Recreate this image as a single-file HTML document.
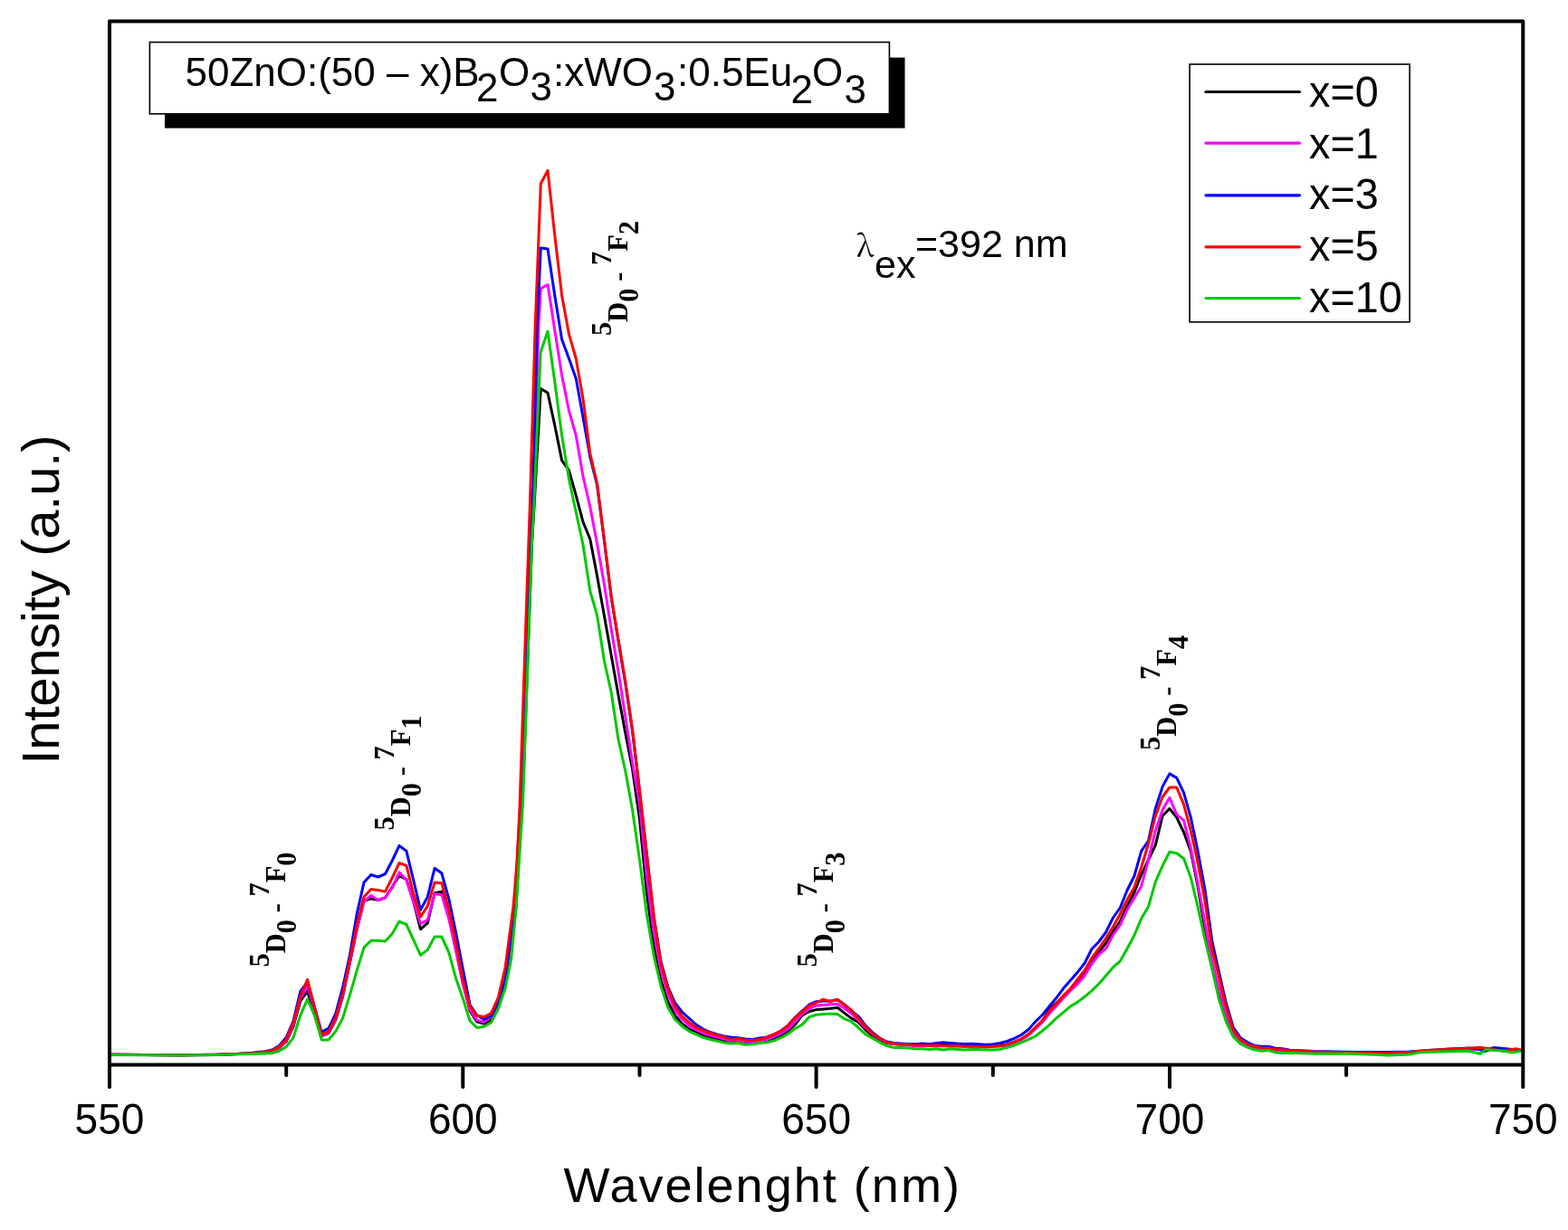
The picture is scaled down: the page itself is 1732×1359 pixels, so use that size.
<!DOCTYPE html>
<html><head><meta charset="utf-8">
<style>
html,body{margin:0;padding:0;background:#fff;}
svg{display:block;}
.s{font-family:"Liberation Sans",Arial,sans-serif;}
.t{font-family:"Liberation Serif","Times New Roman",serif;font-weight:bold;}
</style></head><body>
<svg width="1732" height="1359" viewBox="0 0 1732 1359">
<rect x="0" y="0" width="1732" height="1359" fill="#fff"/>
<!-- curves -->
<g stroke-width="3" stroke-linejoin="round" stroke-linecap="round">
<polyline fill="none" stroke="#000" points="121.0,1165.3 199.1,1165.8 238.1,1165.4 277.1,1164.0 292.7,1162.6 300.5,1161.5 308.3,1158.0 316.1,1151.0 324.0,1134.0 331.8,1106.0 339.6,1095.2 355.2,1144.5 363.0,1141.5 370.8,1127.0 378.6,1101.0 386.4,1064.0 394.2,1027.0 402.0,995.3 409.8,992.8 417.6,994.5 425.4,992.0 433.2,980.0 441.0,967.4 448.9,971.6 456.7,996.1 464.5,1026.6 472.3,1019.8 480.1,986.8 487.9,985.1 495.7,1011.4 503.5,1048.6 511.3,1085.8 519.1,1117.0 526.9,1128.9 534.7,1131.1 542.5,1127.1 550.3,1111.2 558.1,1086.5 563.5,1060.0 570.0,1001.0 578.5,850.0 587.5,600.0 590.0,560.0 597.3,429.5 605.0,434.0 612.8,470.0 620.6,508.6 628.4,519.6 636.2,547.2 644.0,576.6 651.8,595.5 659.6,636.5 667.4,680.0 675.2,724.0 683.0,768.0 690.8,810.0 698.6,850.0 706.5,905.0 714.3,985.0 722.1,1045.0 729.9,1083.0 737.7,1107.0 745.5,1122.0 753.3,1131.0 761.1,1137.0 768.9,1140.5 776.7,1144.0 784.5,1146.5 792.3,1148.5 800.1,1150.0 807.9,1151.5 815.7,1151.0 823.5,1152.5 831.3,1152.5 839.2,1151.0 847.0,1150.0 854.8,1147.5 862.6,1144.0 870.4,1139.5 878.2,1132.0 886.0,1121.9 893.8,1117.5 901.6,1115.6 909.4,1115.0 917.2,1114.3 925.0,1113.3 932.8,1119.4 940.6,1125.1 948.4,1129.5 956.2,1138.0 964.0,1144.5 971.9,1149.0 979.7,1152.5 987.5,1153.5 995.3,1154.0 1003.1,1154.0 1010.9,1153.7 1018.7,1153.7 1057.7,1154.5 1104.6,1154.5 1112.4,1154.0 1120.2,1151.5 1128.0,1148.0 1135.8,1143.0 1143.6,1136.0 1151.4,1128.5 1159.2,1115.0 1167.0,1108.0 1174.8,1100.5 1182.6,1093.0 1190.4,1084.0 1198.2,1075.0 1206.0,1064.0 1213.8,1051.7 1221.6,1042.0 1229.5,1029.0 1237.3,1018.0 1245.1,1001.0 1252.9,986.0 1260.7,966.3 1268.5,950.1 1276.3,933.9 1284.1,901.5 1291.9,893.4 1299.7,903.1 1307.5,919.3 1315.3,940.4 1323.1,979.2 1330.9,1026.2 1338.7,1065.0 1346.5,1095.0 1354.3,1122.0 1362.2,1142.0 1370.0,1151.0 1377.8,1155.5 1385.6,1158.0 1393.4,1159.5 1401.2,1160.0 1409.0,1161.0 1416.8,1161.5 1424.6,1162.0 1432.4,1162.0 1451.2,1162.5 1498.0,1163.5 1533.8,1163.8 1557.2,1163.0 1596.1,1160.8 1614.9,1159.5 1631.0,1158.0 1640.0,1161.5 1651.0,1158.0 1661.6,1160.0 1682.0,1160.8"/>
<polyline fill="none" stroke="#f0f" points="121.0,1165.3 199.1,1165.8 238.1,1165.4 277.1,1164.0 292.7,1162.6 300.5,1161.5 308.3,1157.5 316.1,1150.5 324.0,1132.0 331.8,1103.3 339.6,1088.6 355.2,1144.2 363.0,1141.0 370.8,1126.0 378.6,1100.0 386.4,1063.0 394.2,1026.0 402.0,996.0 409.8,989.4 417.6,994.5 425.4,992.0 433.2,980.9 441.0,963.8 448.9,972.5 456.7,996.1 464.5,1020.7 472.3,1016.4 480.1,987.7 487.9,988.5 495.7,1014.8 503.5,1050.3 511.3,1087.5 519.1,1115.6 526.9,1127.1 534.7,1129.3 542.5,1123.6 550.3,1107.7 558.1,1081.2 562.0,1060.0 569.0,1001.0 577.5,850.0 586.5,600.0 589.0,560.0 594.9,360.0 597.3,319.0 605.0,314.5 612.8,365.0 620.6,414.7 628.4,453.4 636.2,481.0 644.0,526.0 651.8,560.0 659.6,601.0 667.4,645.5 675.2,695.2 683.0,742.0 690.8,792.0 698.6,843.0 706.5,888.0 714.3,968.0 722.1,1030.0 729.9,1072.0 737.7,1098.0 745.5,1116.0 753.3,1126.0 761.1,1133.0 768.9,1138.0 776.7,1141.5 784.5,1144.0 792.3,1146.0 800.1,1148.0 807.9,1150.0 815.7,1149.5 823.5,1151.0 831.3,1151.5 839.2,1150.5 847.0,1148.5 854.8,1145.5 862.6,1142.0 870.4,1137.0 878.2,1129.0 886.0,1120.6 893.8,1114.3 901.6,1111.1 909.4,1110.5 917.2,1109.8 925.0,1109.2 932.8,1114.3 940.6,1120.0 948.4,1127.5 956.2,1136.0 964.0,1143.0 971.9,1148.0 979.7,1152.0 987.5,1153.5 995.3,1154.5 1003.1,1155.0 1010.9,1155.5 1018.7,1155.5 1057.7,1156.0 1104.6,1156.0 1112.4,1155.0 1120.2,1152.0 1128.0,1149.0 1135.8,1144.0 1143.6,1137.0 1151.4,1129.5 1159.2,1119.5 1167.0,1111.2 1174.8,1102.4 1182.6,1094.2 1190.4,1087.1 1198.2,1077.7 1206.0,1065.0 1213.8,1054.5 1221.6,1048.0 1229.5,1033.0 1237.3,1022.0 1245.1,1005.0 1252.9,992.3 1260.7,979.2 1268.5,950.1 1276.3,917.7 1284.1,895.0 1291.9,881.3 1299.7,899.9 1307.5,906.4 1315.3,937.1 1323.1,976.0 1330.9,1019.7 1338.7,1062.0 1346.5,1092.0 1354.3,1120.0 1362.2,1141.0 1370.0,1150.5 1377.8,1155.0 1385.6,1157.5 1393.4,1159.0 1401.2,1159.5 1409.0,1160.5 1416.8,1161.0 1424.6,1162.0 1432.4,1162.0 1451.2,1162.5 1498.0,1163.5 1533.8,1163.8 1557.2,1163.0 1596.1,1160.5 1635.1,1159.0 1649.1,1160.0 1661.6,1158.8 1674.1,1160.0 1682.0,1160.8"/>
<polyline fill="none" stroke="#00f" points="121.0,1165.2 160.0,1165.5 199.1,1165.8 238.1,1165.3 261.5,1164.5 277.1,1163.5 284.9,1162.5 292.7,1161.8 300.5,1160.0 308.3,1155.5 316.1,1146.5 324.0,1128.0 331.8,1095.5 339.6,1085.0 355.2,1140.4 363.0,1136.1 370.8,1120.0 378.6,1091.0 386.4,1055.4 394.2,1009.7 402.0,975.0 409.8,966.5 417.6,969.0 425.4,965.7 433.2,951.0 441.0,934.4 448.9,940.3 456.7,972.5 464.5,1005.4 472.3,991.0 480.1,959.3 487.9,964.8 495.7,992.8 503.5,1030.0 511.3,1070.6 519.1,1110.4 526.9,1121.8 534.7,1126.2 542.5,1122.7 550.3,1107.7 558.1,1083.0 561.0,1060.0 568.5,1001.0 577.0,850.0 586.0,600.0 588.2,560.0 593.4,360.0 597.3,274.0 605.0,275.0 612.8,326.5 620.6,375.0 628.4,396.0 636.2,418.0 644.0,460.7 651.8,505.0 659.6,536.0 667.4,597.0 675.2,660.0 683.0,708.0 690.8,755.0 698.6,808.0 706.5,875.0 714.3,944.0 722.1,1012.0 729.9,1062.0 737.7,1090.0 745.5,1108.0 753.3,1118.0 761.1,1125.0 768.9,1132.0 776.7,1137.0 784.5,1140.5 792.3,1143.0 800.1,1145.0 807.9,1146.0 815.7,1146.7 823.5,1148.0 831.3,1148.5 839.2,1147.0 847.0,1146.0 854.8,1143.0 862.6,1139.0 870.4,1133.0 878.2,1124.0 886.0,1117.0 893.8,1110.0 901.6,1106.7 909.4,1106.0 917.2,1106.0 925.0,1104.8 932.8,1110.0 940.6,1116.8 948.4,1123.2 956.2,1133.4 964.0,1141.0 971.9,1147.0 979.7,1151.0 987.5,1152.5 995.3,1153.0 1003.1,1153.5 1010.9,1154.0 1018.7,1153.0 1026.5,1153.7 1034.3,1152.4 1042.1,1151.8 1049.9,1152.4 1057.7,1153.0 1065.5,1153.4 1073.3,1153.3 1081.1,1153.7 1088.9,1154.3 1096.8,1153.7 1104.6,1152.4 1112.4,1150.5 1120.2,1147.3 1128.0,1143.5 1135.8,1137.8 1143.6,1128.9 1151.4,1121.5 1159.2,1111.8 1167.0,1102.4 1174.8,1091.8 1182.6,1083.0 1190.4,1074.1 1198.2,1064.0 1206.0,1048.5 1213.8,1040.5 1221.6,1029.8 1229.5,1014.0 1237.3,1003.0 1245.1,983.5 1252.9,968.0 1260.7,940.4 1268.5,929.0 1276.3,893.4 1284.1,869.1 1291.9,854.9 1299.7,859.4 1307.5,875.6 1315.3,903.1 1323.1,940.4 1330.9,982.5 1338.7,1039.0 1346.5,1074.3 1354.3,1108.3 1362.2,1135.0 1370.0,1146.4 1377.8,1151.6 1385.6,1155.2 1393.4,1156.2 1401.2,1156.2 1409.0,1158.3 1416.8,1158.8 1424.6,1160.3 1432.4,1160.5 1451.2,1161.5 1498.0,1162.5 1533.8,1162.5 1557.2,1162.0 1600.0,1159.0 1622.6,1158.0 1640.0,1160.0 1651.0,1157.5 1665.0,1159.0 1682.0,1160.4"/>
<polyline fill="none" stroke="#f00" points="121.0,1165.2 160.0,1165.5 199.1,1165.8 238.1,1165.3 261.5,1164.5 277.1,1163.8 284.9,1163.0 292.7,1162.3 300.5,1160.5 308.3,1156.6 316.1,1148.9 324.0,1129.6 331.8,1101.0 339.6,1082.4 355.2,1143.1 363.0,1139.6 370.8,1124.0 378.6,1097.7 386.4,1060.4 394.2,1021.5 402.0,991.0 409.8,982.6 417.6,983.5 425.4,985.1 433.2,970.0 441.0,953.5 448.9,956.4 456.7,987.7 464.5,1013.0 472.3,1001.2 480.1,975.0 487.9,975.8 495.7,1004.6 503.5,1041.8 511.3,1082.6 519.1,1112.1 526.9,1122.3 534.7,1123.6 542.5,1119.6 550.3,1102.4 558.1,1069.0 567.0,1001.8 571.0,953.3 573.9,895.0 581.7,663.0 585.3,560.0 591.2,360.0 597.3,203.0 605.0,188.4 612.8,260.0 620.6,326.5 628.4,368.8 636.2,396.0 644.0,440.5 651.8,501.0 659.6,534.5 667.4,595.7 675.2,658.9 683.0,706.7 690.8,753.0 698.6,806.0 706.5,873.0 714.3,942.0 722.1,1012.0 729.9,1063.9 737.7,1091.9 745.5,1111.5 753.3,1122.7 761.1,1129.7 768.9,1135.2 776.7,1138.7 784.5,1141.5 792.3,1143.6 800.1,1145.9 807.9,1148.8 815.7,1147.5 823.5,1149.2 831.3,1149.6 839.2,1148.6 847.0,1146.0 854.8,1142.9 862.6,1139.0 870.4,1133.3 878.2,1124.5 886.0,1118.1 893.8,1111.1 901.6,1108.0 909.4,1104.1 917.2,1106.7 925.0,1104.1 932.8,1110.5 940.6,1116.2 948.4,1125.7 956.2,1134.6 964.0,1142.2 971.9,1147.3 979.7,1151.8 987.5,1153.0 995.3,1153.7 1003.1,1154.3 1010.9,1155.0 1018.7,1155.0 1026.5,1155.6 1034.3,1155.0 1042.1,1155.3 1049.9,1155.8 1057.7,1155.6 1065.5,1156.2 1073.3,1156.2 1081.1,1156.2 1088.9,1156.9 1096.8,1156.2 1104.6,1155.6 1112.4,1154.3 1120.2,1151.1 1128.0,1148.0 1135.8,1142.9 1143.6,1135.3 1151.4,1127.5 1159.2,1116.8 1167.0,1109.0 1174.8,1100.0 1182.6,1092.0 1190.4,1082.0 1198.2,1072.0 1206.0,1058.5 1213.8,1048.0 1221.6,1036.5 1229.5,1024.0 1237.3,1010.0 1245.1,994.0 1252.9,980.5 1260.7,958.2 1268.5,932.3 1276.3,901.5 1284.1,880.5 1291.9,870.0 1299.7,870.0 1307.5,888.6 1315.3,917.7 1323.1,953.3 1330.9,995.4 1338.7,1049.0 1346.5,1079.4 1354.3,1112.4 1362.2,1138.2 1370.0,1148.5 1377.8,1153.6 1385.6,1156.2 1393.4,1157.7 1401.2,1158.3 1409.0,1159.3 1416.8,1159.8 1424.6,1160.8 1432.4,1160.8 1451.2,1162.0 1498.0,1163.5 1533.8,1163.5 1557.2,1162.7 1575.9,1160.4 1596.1,1159.6 1614.9,1158.8 1635.1,1157.3 1649.1,1159.6 1661.6,1161.2 1674.1,1158.8 1682.0,1160.4"/>
<polyline fill="none" stroke="#00c800" points="121.0,1165.5 199.1,1166.0 238.1,1165.5 277.1,1164.5 292.7,1164.0 300.5,1163.6 308.3,1161.2 316.1,1156.6 324.0,1146.6 331.8,1121.8 339.6,1104.0 347.4,1121.8 355.2,1148.9 363.0,1148.9 370.8,1139.5 378.6,1125.0 386.4,1099.4 394.2,1072.3 402.0,1046.9 409.8,1039.3 417.6,1039.3 425.4,1040.1 433.2,1031.7 441.0,1018.1 448.9,1021.5 456.7,1038.4 464.5,1055.4 472.3,1049.4 480.1,1035.0 487.9,1035.0 495.7,1052.0 503.5,1080.7 511.3,1103.0 519.1,1128.0 526.9,1135.5 534.7,1134.2 542.5,1129.8 550.3,1114.8 558.1,1091.8 564.6,1060.0 570.2,1001.8 574.3,937.0 577.5,888.5 578.8,850.0 587.5,600.0 589.7,560.0 597.1,389.4 605.0,366.0 612.8,422.0 620.6,481.0 628.4,529.0 636.2,565.6 644.0,602.0 651.8,653.0 659.6,680.0 667.4,730.0 675.2,765.0 683.0,817.0 690.8,852.0 698.6,895.0 706.5,950.0 714.3,1010.0 722.1,1055.5 729.9,1089.0 737.7,1112.9 745.5,1126.2 753.3,1133.8 761.1,1139.4 768.9,1142.9 776.7,1146.4 784.5,1148.5 792.3,1150.3 800.1,1152.0 807.9,1153.1 815.7,1152.5 823.5,1154.3 831.3,1153.7 839.2,1152.4 847.0,1151.8 854.8,1149.9 862.6,1146.7 870.4,1142.2 878.2,1136.5 886.0,1132.1 893.8,1123.8 901.6,1121.3 909.4,1120.6 917.2,1120.0 925.0,1120.6 932.8,1125.7 940.6,1128.9 948.4,1135.9 956.2,1142.9 964.0,1147.3 971.9,1151.8 979.7,1155.6 987.5,1157.5 995.3,1157.5 1003.1,1158.1 1010.9,1158.7 1018.7,1158.8 1026.5,1159.4 1034.3,1158.8 1042.1,1160.0 1049.9,1158.8 1057.7,1159.4 1065.5,1160.0 1073.3,1159.4 1081.1,1159.4 1088.9,1160.0 1096.8,1160.0 1104.6,1159.4 1112.4,1157.5 1120.2,1155.0 1128.0,1151.8 1135.8,1148.6 1143.6,1145.0 1151.4,1139.0 1159.2,1132.4 1167.0,1124.8 1174.8,1118.3 1182.6,1111.8 1190.4,1107.1 1198.2,1101.2 1206.0,1094.6 1213.8,1087.0 1221.6,1078.1 1229.5,1068.7 1237.3,1062.0 1245.1,1048.0 1252.9,1033.5 1260.7,1014.8 1268.5,1001.9 1276.3,974.4 1284.1,956.6 1291.9,941.2 1299.7,942.8 1307.5,948.5 1315.3,969.5 1323.1,1001.9 1330.9,1037.5 1338.7,1070.0 1346.5,1104.2 1354.3,1128.9 1362.2,1145.4 1370.0,1153.1 1377.8,1157.2 1385.6,1159.8 1393.4,1161.3 1401.2,1160.5 1409.0,1162.9 1416.8,1163.4 1424.6,1163.4 1432.4,1163.4 1451.2,1164.3 1490.0,1164.3 1533.8,1165.9 1557.2,1165.0 1568.0,1162.7 1591.5,1162.0 1622.6,1161.2 1635.0,1164.3 1641.4,1159.6 1661.6,1161.2 1669.4,1162.7 1682.0,1161.2"/>
</g>
<!-- frame -->
<rect x="121" y="23.5" width="1561.3" height="1153.1" fill="none" stroke="#000" stroke-width="4" stroke-linejoin="round"/>
<g stroke="#000" stroke-width="4" stroke-linecap="round">
<line x1="121" y1="1177" x2="121" y2="1201"/>
<line x1="511.3" y1="1177" x2="511.3" y2="1201"/>
<line x1="901.6" y1="1177" x2="901.6" y2="1201"/>
<line x1="1292" y1="1177" x2="1292" y2="1201"/>
<line x1="1682.3" y1="1177" x2="1682.3" y2="1201"/>
<line x1="316.2" y1="1177" x2="316.2" y2="1188"/>
<line x1="706.5" y1="1177" x2="706.5" y2="1188"/>
<line x1="1096.8" y1="1177" x2="1096.8" y2="1188"/>
<line x1="1487.1" y1="1177" x2="1487.1" y2="1188"/>
</g>
<g class="s" font-size="47" text-anchor="middle" fill="#000">
<text transform="translate(121,1253.4) scale(0.98,1.015)">550</text>
<text transform="translate(511.3,1253.4) scale(0.98,1.015)">600</text>
<text transform="translate(901.6,1253.4) scale(0.98,1.015)">650</text>
<text transform="translate(1292,1253.4) scale(0.98,1.015)">700</text>
<text transform="translate(1682.3,1253.4) scale(0.98,1.015)">750</text>
</g>
<text class="s" x="622.4" y="1327.8" font-size="54" textLength="437.5" lengthAdjust="spacing">Wavelenght (nm)</text>
<text class="s" transform="translate(65,844.5) rotate(-90)" font-size="58" textLength="364" lengthAdjust="spacing">Intensity (a.u.)</text>
<!-- title box -->
<rect x="182" y="63.6" width="817.5" height="78" fill="#000"/>
<rect x="165.4" y="46.6" width="817" height="79.2" fill="#fff" stroke="#000" stroke-width="1.6"/>
<text class="s" y="94.7" font-size="44" transform="scale(1,1.001)"><tspan x="204.5">50ZnO:(50 – x)B</tspan><tspan x="526" dy="17">2</tspan><tspan x="551" dy="-17">O</tspan><tspan x="585.5" dy="16">3</tspan><tspan x="611" dy="-16">:xWO</tspan><tspan x="722" dy="16">3</tspan><tspan x="748" dy="-16">:0.5Eu</tspan><tspan x="873.5" dy="19">2</tspan><tspan x="897" dy="-19">O</tspan><tspan x="932.5" dy="19">3</tspan></text>
<!-- legend -->
<rect x="1314.1" y="71" width="243" height="284.8" fill="#fff" stroke="#000" stroke-width="1.6"/>
<g stroke-width="3.2" stroke-linecap="round">
<line x1="1332" y1="101.5" x2="1435.5" y2="101.5" stroke="#000"/>
<line x1="1332" y1="158.2" x2="1435.5" y2="158.2" stroke="#f0f"/>
<line x1="1332" y1="215.8" x2="1435.5" y2="215.8" stroke="#00f"/>
<line x1="1332" y1="272.8" x2="1435.5" y2="272.8" stroke="#f00"/>
<line x1="1332" y1="329.5" x2="1435.5" y2="329.5" stroke="#00c800"/>
</g>
<g class="s" font-size="47" fill="#000">
<text transform="translate(1446,117.6) scale(0.995,1.01)">x=0</text>
<text transform="translate(1446,174.5) scale(0.995,1.01)">x=1</text>
<text transform="translate(1446,231.4) scale(0.995,1.01)">x=3</text>
<text transform="translate(1446,288.3) scale(0.995,1.01)">x=5</text>
<text transform="translate(1446,345.1) scale(0.995,1.01)">x=10</text>
</g>
<!-- lambda -->
<text class="s" y="284.3" font-size="43"><tspan x="946" font-family="'Noto Serif CJK SC',serif" font-size="33.5">λ</tspan><tspan x="966" dy="22.3">ex</tspan><tspan x="1011" dy="-22.3">=392 nm</tspan></text>
<!-- annotations -->
<text class="t" font-size="30.5" transform="translate(314.6,1068.5) rotate(-90)"><tspan dy="-18">5</tspan><tspan dy="18">D</tspan><tspan dy="12.5">0</tspan><tspan dy="-12.5"> - </tspan><tspan dy="-18">7</tspan><tspan dy="18">F</tspan><tspan dy="12.5">0</tspan></text>
<text class="t" font-size="30.5" transform="translate(452.6,917.5) rotate(-90)"><tspan dy="-18">5</tspan><tspan dy="18">D</tspan><tspan dy="12.5">0</tspan><tspan dy="-12.5"> - </tspan><tspan dy="-18">7</tspan><tspan dy="18">F</tspan><tspan dy="12.5">1</tspan></text>
<text class="t" font-size="30.5" transform="translate(692.5,371.0) rotate(-90)"><tspan dy="-18">5</tspan><tspan dy="18">D</tspan><tspan dy="12.5">0</tspan><tspan dy="-12.5"> - </tspan><tspan dy="-18">7</tspan><tspan dy="18">F</tspan><tspan dy="12.5">2</tspan></text>
<text class="t" font-size="30.5" transform="translate(920.0,1068.5) rotate(-90)"><tspan dy="-18">5</tspan><tspan dy="18">D</tspan><tspan dy="12.5">0</tspan><tspan dy="-12.5"> - </tspan><tspan dy="-18">7</tspan><tspan dy="18">F</tspan><tspan dy="12.5">3</tspan></text>
<text class="t" font-size="30.5" transform="translate(1299.3,829.0) rotate(-90)"><tspan dy="-18">5</tspan><tspan dy="18">D</tspan><tspan dy="12.5">0</tspan><tspan dy="-12.5"> - </tspan><tspan dy="-18">7</tspan><tspan dy="18">F</tspan><tspan dy="12.5">4</tspan></text>
</svg>
</body></html>
